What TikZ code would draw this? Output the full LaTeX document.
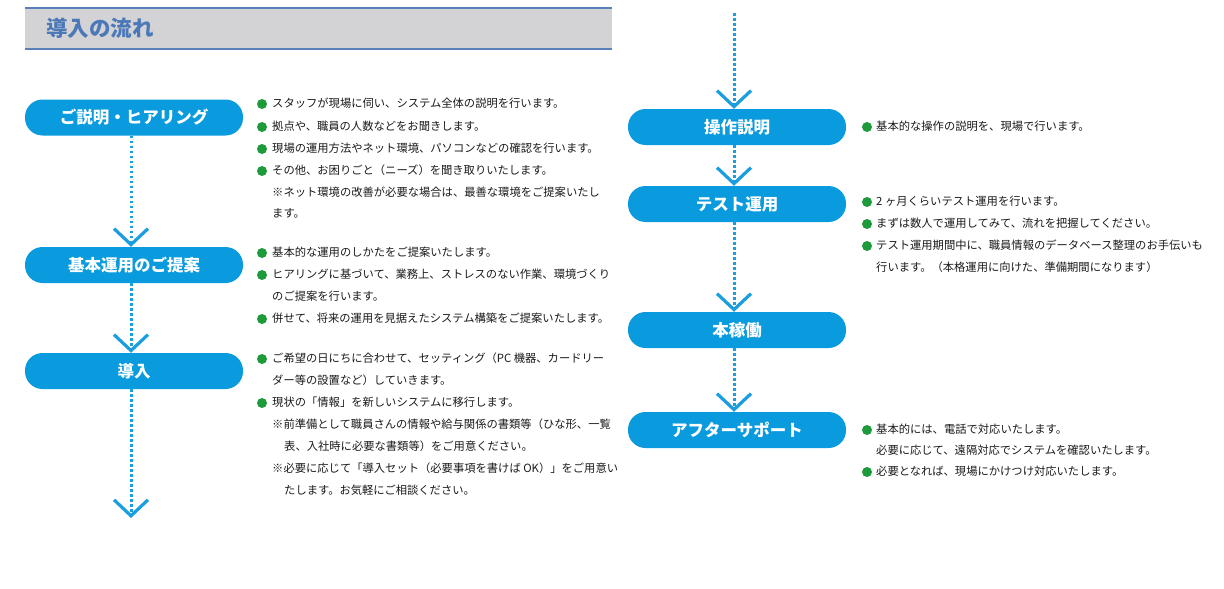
\documentclass[tikz,border=0pt]{standalone}
\usepackage{fontspec}
\usetikzlibrary{arrows.meta}
\newfontfamily\jp{Noto Sans CJK JP}
\definecolor{boxblue}{HTML}{0A9ADE}
\definecolor{dotblue}{HTML}{1A9EE0}
\definecolor{headgray}{HTML}{D3D3D5}
\definecolor{headline}{HTML}{5B80B8}
\definecolor{titleblue}{HTML}{4A78B8}
\definecolor{bulgreen}{HTML}{1F9A3A}
\definecolor{textcol}{HTML}{1A1A1A}
\tikzset{
  stepbox/.style={rounded corners=17.5pt, fill=boxblue, minimum width=218pt, minimum height=36pt,
    inner sep=0pt, text=white, font=\jp\bfseries\fontsize{16.5}{16.5}\selectfont},
  txt/.style={anchor=west, inner sep=0pt, text height=8.5pt, text depth=1.5pt, text=textcol,
    font=\jp\fontsize{11.3}{11.3}\selectfont},
  bul/.style={circle, fill=bulgreen, minimum size=10pt, inner sep=0pt},
  flow/.style={draw=dotblue, line width=3pt, dash pattern=on 2.6pt off 2.4pt, line cap=butt,
    -{Straight Barb[length=16pt, width=34pt, line width=3.2pt, line cap=butt]}},
}
\begin{document}
\begin{tikzpicture}[x=1pt, y=-1pt]
\useasboundingbox (0,0) rectangle (1224,589);
% header
\fill[headgray] (25,8) rectangle (612,49);
\draw[headline, line width=1.2pt] (25,8) -- (612,8) (25,49) -- (612,49);
\node[anchor=west, inner sep=0pt, text=titleblue, font=\jp\bfseries\fontsize{21.5}{21.5}\selectfont] (title) at (46,28.5) {導入の流れ};

% left column boxes
\node[stepbox] (b1) at (134,117.5) {ご説明・ヒアリング};
\node[stepbox] (b2) at (134,265) {基本運用のご提案};
\node[stepbox] (b3) at (134,371) {導入};
\coordinate (lend) at (131,518);

% right column boxes
\coordinate (rstart) at (734,13);
\node[stepbox] (r1) at (737,127) {操作説明};
\node[stepbox] (r2) at (737,204) {テスト運用};
\node[stepbox] (r3) at (737,330) {本稼働};
\node[stepbox] (r4) at (737,430) {アフターサポート};

% connectors
\draw[flow] ([xshift=-3pt]b1.south) -- ([xshift=-3pt]b2.north);
\draw[flow] ([xshift=-3pt]b2.south) -- ([xshift=-3pt]b3.north);
\draw[flow] ([xshift=-3pt]b3.south) -- (lend);
\draw[flow] (rstart) -- ([xshift=-3pt]r1.north);
\draw[flow] ([xshift=-3pt]r1.south) -- ([xshift=-3pt]r2.north);
\draw[flow] ([xshift=-3pt]r2.south) -- ([xshift=-3pt]r3.north);
\draw[flow] ([xshift=-3pt]r3.south) -- ([xshift=-3pt]r4.north);

% texts for b1
\node[bul] (g11) at (262,104) {};
\node[txt] (t11) at (272,104) {スタッフが現場に伺い、システム全体の説明を行います。};
\node[bul] (g12) at (262,127) {};
\node[txt] (t12) at (272,127) {拠点や、職員の人数などをお聞きします。};
\node[bul] (g13) at (262,149) {};
\node[txt] (t13) at (272,149) {現場の運用方法やネット環境、パソコンなどの確認を行います。};
\node[bul] (g14) at (262,171) {};
\node[txt] (t14) at (272,171) {その他、お困りごと（ニーズ）を聞き取りいたします。};
\node[txt] (t15) at (272,193) {※ネット環境の改善が必要な場合は、最善な環境をご提案いたし};
\node[txt] (t16) at (272,214) {ます。};

% texts for b2
\node[bul] (g21) at (262,253) {};
\node[txt] (t21) at (272,253) {基本的な運用のしかたをご提案いたします。};
\node[bul] (g22) at (262,275) {};
\node[txt] (t22) at (272,275) {ヒアリングに基づいて、業務上、ストレスのない作業、環境づくり};
\node[txt] (t23) at (272,297) {のご提案を行います。};
\node[bul] (g24) at (262,319) {};
\node[txt] (t24) at (272,319) {併せて、将来の運用を見据えたシステム構築をご提案いたします。};

% texts for b3
\node[bul] (g31) at (262,359) {};
\node[txt] (t31) at (272,359) {ご希望の日にちに合わせて、セッティング（PC 機器、カードリー};
\node[txt] (t32) at (272,381) {ダー等の設置など）していきます。};
\node[bul] (g33) at (262,403) {};
\node[txt] (t33) at (272,403) {現状の「情報」を新しいシステムに移行します。};
\node[txt] (t34) at (272,425) {※前準備として職員さんの情報や給与関係の書類等（ひな形、一覧};
\node[txt] (t35) at (284,447) {表、入社時に必要な書類等）をご用意ください。};
\node[txt] (t36) at (272,469) {※必要に応じて「導入セット（必要事項を書けば OK）」をご用意い};
\node[txt] (t37) at (284,491) {たします。お気軽にご相談ください。};

% right texts
\node[bul] (h11) at (867,127) {};
\node[txt] (u11) at (876,127) {基本的な操作の説明を、現場で行います。};

\node[bul] (h21) at (867,202) {};
\node[txt] (u21) at (876,202) {2 ヶ月くらいテスト運用を行います。};
\node[bul] (h22) at (867,224) {};
\node[txt] (u22) at (876,224) {まずは数人で運用してみて、流れを把握してください。};
\node[bul] (h23) at (867,246) {};
\node[txt] (u23) at (876,246) {テスト運用期間中に、職員情報のデータベース整理のお手伝いも};
\node[txt] (u24) at (876,268) {行います。（本格運用に向けた、準備期間になります）};

\node[bul] (h41) at (867,430) {};
\node[txt] (u41) at (876,430) {基本的には、電話で対応いたします。};
\node[txt] (u42) at (876,451) {必要に応じて、遠隔対応でシステムを確認いたします。};
\node[bul] (h43) at (867,472) {};
\node[txt] (u43) at (876,472) {必要となれば、現場にかけつけ対応いたします。};
\end{tikzpicture}
\end{document}
